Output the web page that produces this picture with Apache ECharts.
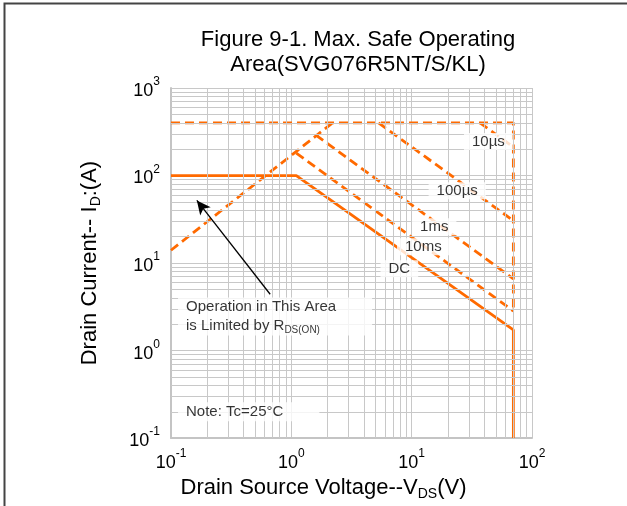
<!DOCTYPE html>
<html>
<head>
<meta charset="utf-8">
<script src="https://cdn.jsdelivr.net/npm/echarts@6/dist/echarts.min.js"></script>
<style>
html, body { margin: 0; padding: 0; background: #fff; }
#soa { width: 627px; height: 506px; }
</style>
</head>
<body>
<div id="soa"></div>
<script>
// curves of the SOA chart, [Vds (V), Id (A)]
var rdsLimit   = [[0.1, 14], [2.2, 400]];
var pulseLimit = [[0.1, 400], [70, 400], [70, 2.8]];
var us10Line   = [[37, 400], [70, 212]];
var us100Line  = [[5.3, 400], [70, 30.5]];
var ms1Line    = [[1.6, 290], [70, 6.6]];
var ms10Line   = [[1.1, 180], [70, 2.83]];
var dcLine     = [[0.1, 100], [1.1, 100], [70, 1.72], [70, 0.1]];
var arrowFrom  = [0.667, 4.4];
var arrowTo    = [0.164, 52];

// curve names and where they are written
var curveNames  = ['10µs', '100µs', '1ms', '10ms', 'DC'];
var curveLabelX = [43.4, 23.9, 15.4, 12.5, 7.9];
var curveLabelY = [245, 67, 26, 15.4, 8.6];

var xDecades = [0.1, 1, 10];
var yDecades = [0.1, 1, 10, 100];
var minorSteps = [2, 3, 4, 5, 6, 7, 8, 9];

var FONT = 'Liberation Sans, Arial, sans-serif';
var ORANGE = '#ff6a00';

function initSoaChart() {
	var myChart = echarts.init(document.getElementById('soa'));

	var minorLines = [];
	xDecades.forEach(function (d) {
		minorSteps.forEach(function (m) { minorLines.push({xAxis: d * m}); });
	});
	yDecades.forEach(function (d) {
		minorSteps.forEach(function (m) { minorLines.push({yAxis: d * m}); });
	});

	function powLabel(v) {
		var e = Math.round(Math.log(v) / Math.LN10);
		return '{b|10}{e|' + e + '}';
	}
	var powRich = {
		b: {fontSize: 18, fontFamily: FONT, color: '#000', lineHeight: 24, verticalAlign: 'bottom'},
		e: {fontSize: 12, fontFamily: FONT, color: '#000', lineHeight: 14, verticalAlign: 'top'}
	};
	var nameRich = {
		n: {fontSize: 22, fontFamily: FONT, color: '#000', lineHeight: 24, verticalAlign: 'top'},
		s: {fontSize: 14, fontFamily: FONT, color: '#000', lineHeight: 14, verticalAlign: 'bottom'}
	};

	function curve(name, data, dashed) {
		return {
			name: name,
			type: 'line',
			data: data,
			z: 3,
			symbol: 'none',
			silent: true,
			lineStyle: {color: ORANGE, width: 2.8, type: dashed ? [9, 5] : 'solid'}
		};
	}

	var labelData = curveNames.map(function (n, i) {
		return {name: n, value: [curveLabelX[i], curveLabelY[i]]};
	});

	var option = {
		animation: false,
		backgroundColor: '#fff',
		title: {
			text: 'Figure 9-1. Max. Safe Operating\nArea(SVG076R5NT/S/KL)',
			left: 353,
			top: 22,
			textAlign: 'center',
			textStyle: {fontFamily: FONT, fontSize: 22, fontWeight: 'normal', color: '#000', lineHeight: 25}
		},
		grid: {left: 171, top: 88, width: 361, height: 355},
		xAxis: {
			type: 'log',
			logBase: 10,
			min: 0.1,
			max: 100,
			name: '{n|Drain Source Voltage--V}{s|DS}{n|(V)}',
			nameLocation: 'middle',
			nameGap: 34,
			nameTextStyle: {padding: [0, 56, 0, 0], rich: nameRich},
			axisLine: {show: true, lineStyle: {color: '#c4c4c4', width: 2}},
			axisTick: {show: false},
			axisLabel: {margin: 10, formatter: powLabel, rich: powRich},
			splitLine: {show: true, lineStyle: {color: '#c8c8c8', width: 1}}
		},
		yAxis: {
			type: 'log',
			logBase: 10,
			min: 0.1,
			max: 1000,
			name: '{n|Drain Current-- I}{s|D}{n|:(A)}',
			nameLocation: 'middle',
			nameGap: 68,
			nameTextStyle: {rich: nameRich},
			axisLine: {show: true, lineStyle: {color: '#c4c4c4', width: 2}},
			axisTick: {show: false},
			axisLabel: {margin: 11, formatter: powLabel, rich: powRich},
			splitLine: {show: true, lineStyle: {color: '#c8c8c8', width: 1}}
		},
		graphic: [{
			type: 'rect',
			left: 2, top: 1,
			shape: {width: 700, height: 600},
			style: {fill: 'none', stroke: '#444', lineWidth: 2},
			silent: true,
			z: 100
		}],
		series: [
			{
				name: 'grid',
				type: 'line',
				data: [],
				z: 1,
				silent: true,
				markLine: {
					silent: true,
					symbol: ['none', 'none'],
					label: {show: false},
					lineStyle: {color: '#c8c8c8', width: 1, type: 'solid'},
					emphasis: {disabled: true},
					data: minorLines
				}
			},
			curve('RDS', rdsLimit, true),
			curve('limit', pulseLimit, true),
			curve('10µs', us10Line, true),
			curve('100µs', us100Line, true),
			curve('1ms', ms1Line, true),
			curve('10ms', ms10Line, true),
			curve('DC', dcLine, false),
			{
				name: 'labels',
				type: 'scatter',
				symbolSize: 0,
				z: 6,
				silent: true,
				data: labelData,
				label: {
					show: true,
					position: 'inside',
					formatter: '{b}',
					fontFamily: FONT,
					fontSize: 15,
					color: '#000',
					backgroundColor: '#fff',
					padding: [1, 8]
				}
			},
			{
				name: 'notes',
				type: 'scatter',
				symbolSize: 0,
				z: 6,
				silent: true,
				data: [
					{name: 'rds', value: [0.1144, 2.45]},
					{name: 'note', value: [0.1144, 0.2]}
				],
				label: {
					show: true,
					position: 'right',
					distance: 0,
					backgroundColor: '#fff',
					formatter: function (p) {
						if (p.name === 'rds') {
							return '{t|Operation in This Area}\n{t|is Limited by R}{s|DS(ON)}';
						}
						return '{t|Note: Tc=25°C}';
					},
					rich: {
						t: {fontSize: 15, fontFamily: FONT, color: '#000', lineHeight: 19, verticalAlign: 'middle'},
						s: {fontSize: 10, fontFamily: FONT, color: '#000', lineHeight: 12, verticalAlign: 'bottom'}
					},
					padding: [0, 36, 0, 8]
				}
			},
			{
				name: 'arrow',
				type: 'line',
				data: [],
				z: 7,
				silent: true,
				markLine: {
					silent: true,
					symbol: ['none', 'arrow'],
					symbolSize: [10, 14],
					label: {show: false},
					emphasis: {disabled: true},
					lineStyle: {color: '#000', width: 1.3, type: 'solid'},
					data: [[{coord: arrowFrom}, {coord: arrowTo}]]
				}
			}
		]
	};
	myChart.setOption(option);
}

initSoaChart();
</script>
</body>
</html>
